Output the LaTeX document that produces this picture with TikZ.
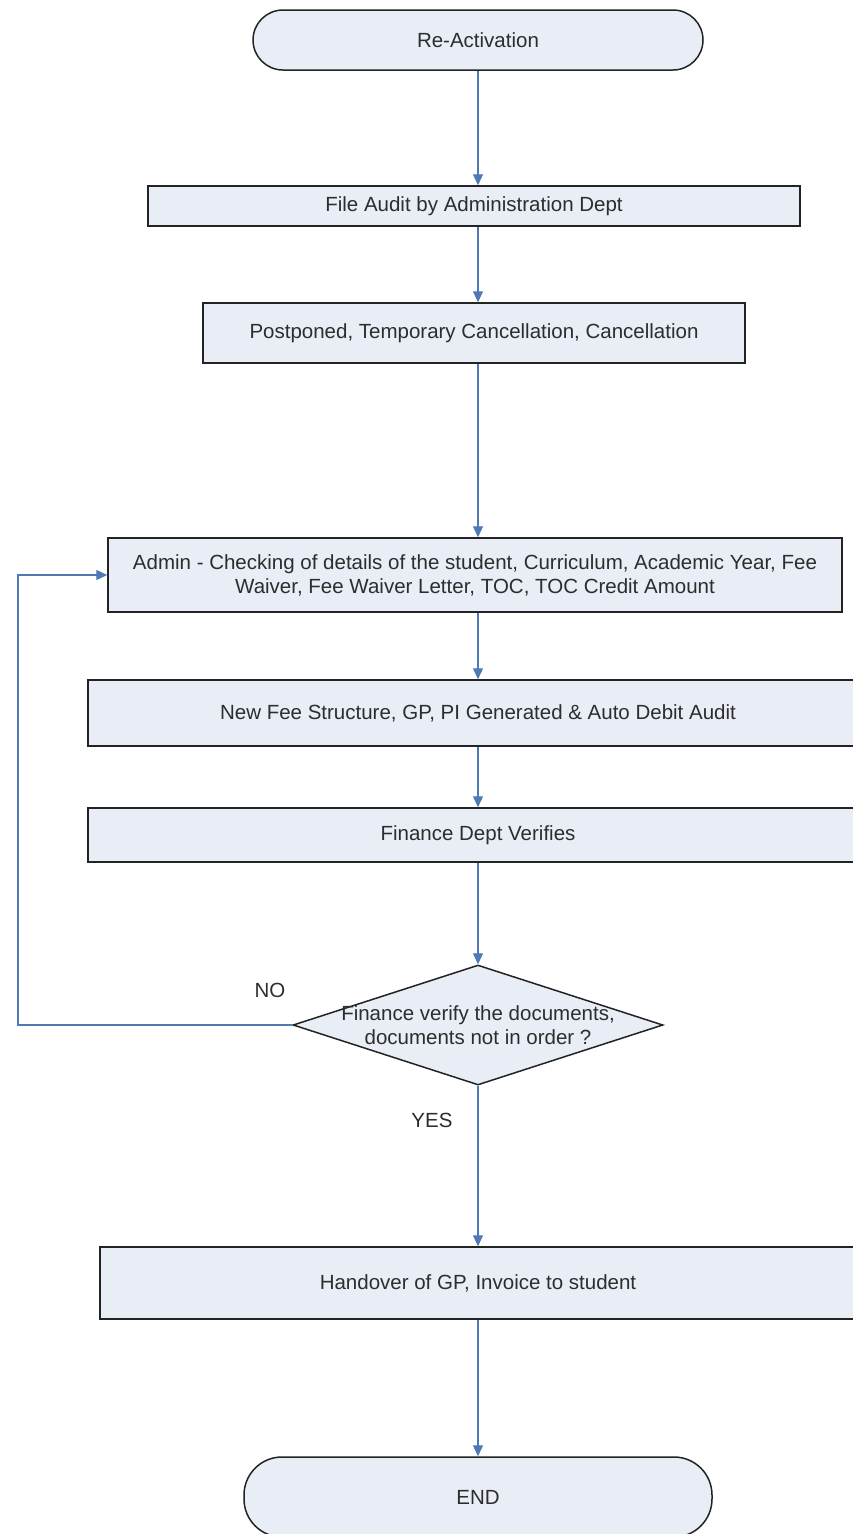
\documentclass[tikz,border=0pt]{standalone}
\usepackage{fontspec}
\setmainfont{Liberation Sans}
\usetikzlibrary{shapes.geometric,arrows.meta}
\definecolor{boxfill}{RGB}{232,237,246}
\definecolor{boxline}{RGB}{35,35,35}
\definecolor{flow}{RGB}{79,120,182}
\definecolor{txt}{RGB}{45,45,45}

\begin{document}
\begin{tikzpicture}[x=1pt,y=-1pt,
  every node/.style={font=\fontsize{20.5}{24}\selectfont, text=txt},
  proc/.style={draw=boxline, fill=boxfill, line width=1.5pt, rectangle,
               inner sep=0pt, align=center},
  term/.style={proc, rounded corners=#1},
  decision/.style={draw=boxline, fill=boxfill, line width=1.5pt, diamond,
                   inner sep=0pt},
  flowline/.style={draw=flow, line width=1.2pt,
                   -{Triangle[length=11pt,width=10pt]}},
  answer/.style={font=\fontsize{20.5}{24}\selectfont}]

\useasboundingbox (0,0) rectangle (853,1534);
\fill[white] (0,0) rectangle (853,1534);
\clip (0,0) rectangle (853,1534);

% process steps, top to bottom
\node[term=30pt, minimum width=450pt, minimum height=60pt] (start) at (478,40) {Re-Activation};
\node[proc, minimum width=652pt, minimum height=40pt] (audit) at (474,206) {File Audit by Administration Dept};
\node[proc, minimum width=542pt, minimum height=60pt] (post) at (474,333) {Postponed, Temporary Cancellation, Cancellation};
\node[proc, minimum width=734pt, minimum height=74pt] (admin) at (475,575)
  {Admin - Checking of details of the student, Curriculum, Academic Year, Fee\\
   Waiver, Fee Waiver Letter, TOC, TOC Credit Amount};
\node[proc, minimum width=780pt, minimum height=66pt] (newfee) at (478,713) {New Fee Structure, GP, PI Generated \& Auto Debit Audit};
\node[proc, minimum width=780pt, minimum height=54pt] (finance) at (478,835) {Finance Dept Verifies};

% decision
\node[decision, minimum width=370pt, minimum height=120pt] (dec) at (478,1025) {};
\node[align=center, inner sep=0pt] (dectext) at (dec.center)
  {Finance verify the documents,\\documents not in order ?};

\node[proc, minimum width=756pt, minimum height=72pt] (handover) at (478,1283) {Handover of GP, Invoice to student};
\node[term=38pt, minimum width=468pt, minimum height=80pt] (end) at (478,1497) {END};

% branch labels
\node[answer] (no) at (270,990) {NO};
\node[answer] (yes) at (432,1120) {YES};

% connectors
\draw[flowline] (start.south) -- (start.south |- audit.north);
\draw[flowline] (start.south |- audit.south) -- (start.south |- post.north);
\draw[flowline] (start.south |- post.south) -- (start.south |- admin.north);
\draw[flowline] (start.south |- admin.south) -- (start.south |- newfee.north);
\draw[flowline] (start.south |- newfee.south) -- (start.south |- finance.north);
\draw[flowline] (start.south |- finance.south) -- (dec.north);
\draw[flowline] (dec.south) -- (dec.south |- handover.north);
\draw[flowline] (dec.south |- handover.south) -- (dec.south |- end.north);

% return path when documents are not in order
\coordinate (loop) at (18,0);
\draw[flowline] (dec.west) -- (dec.west -| loop) |- (admin.west);
\end{tikzpicture}
\end{document}
